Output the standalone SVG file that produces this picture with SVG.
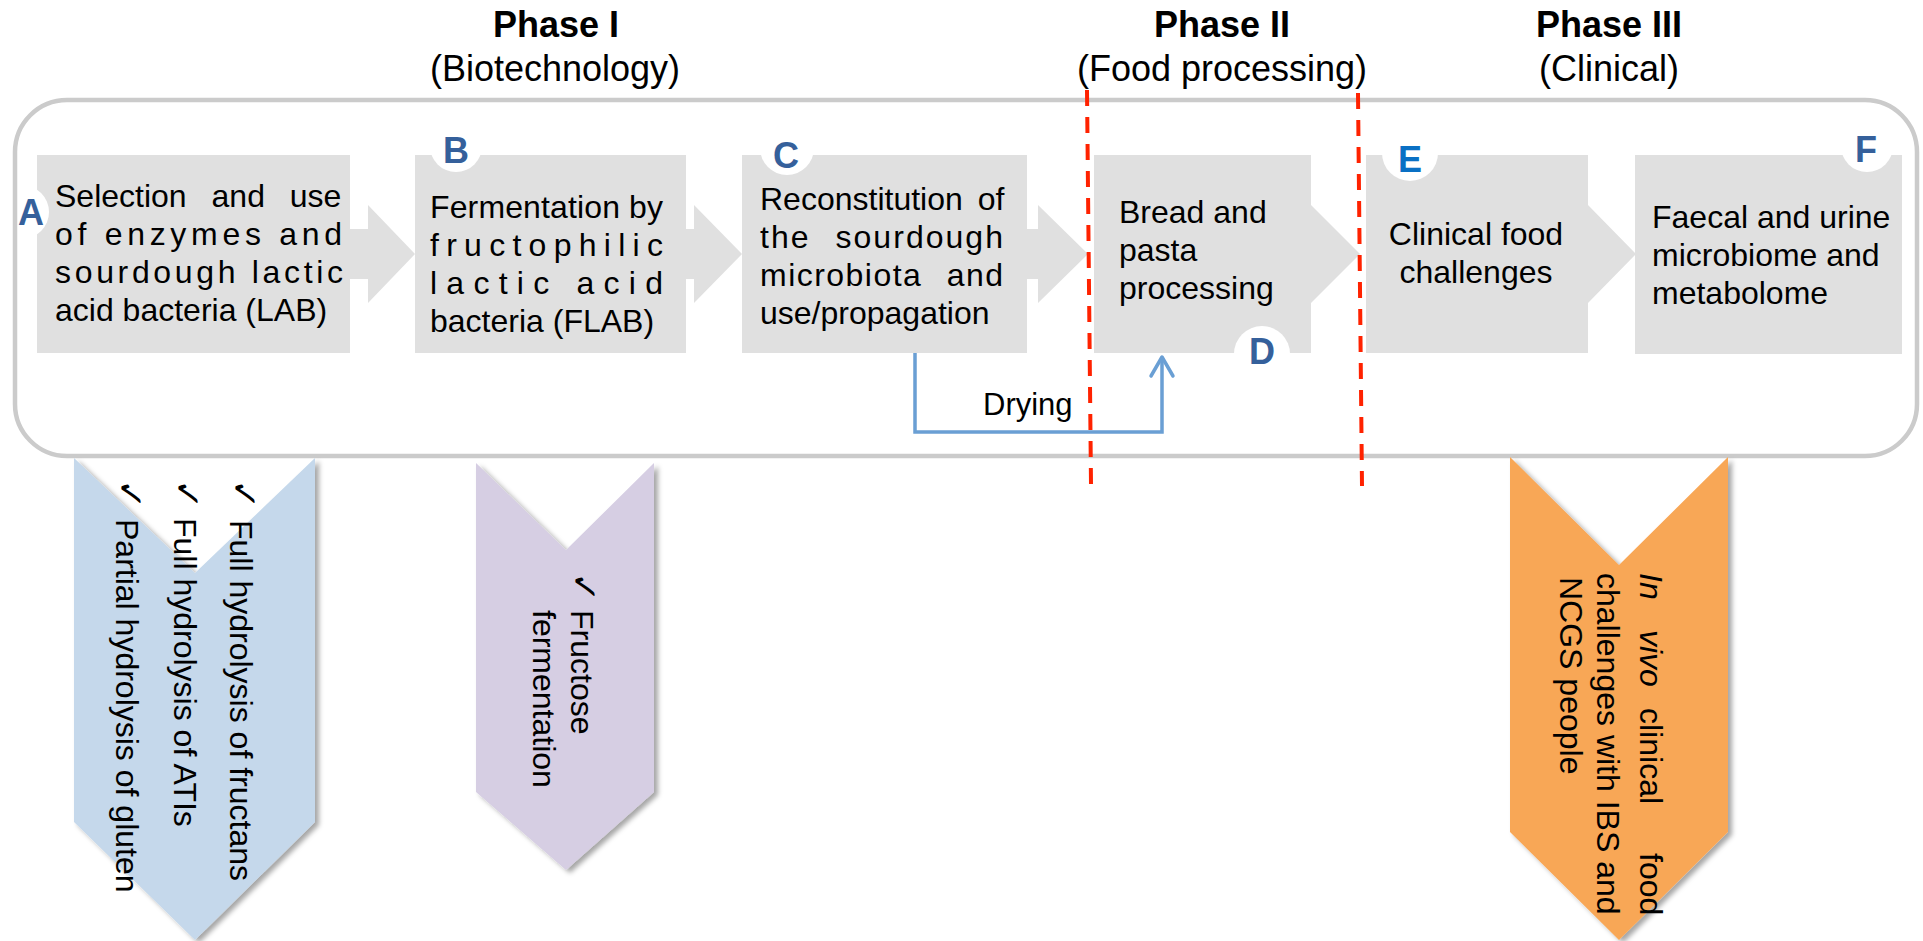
<svg xmlns="http://www.w3.org/2000/svg" width="1923" height="941" viewBox="0 0 1923 941">
<defs>
<style>
text{font-family:"Liberation Sans",Arial,sans-serif;fill:#000}
.t{font-size:32px}
.hb{font-size:36px;font-weight:bold;text-anchor:middle}
.hr{font-size:36px;text-anchor:middle}
.box{fill:#e0e0e0}
.notch{fill:#ffffff}
.lab{font-size:36px;font-weight:bold;fill:#35609b;text-anchor:middle}
.chk{font-family:"DejaVu Sans",sans-serif;font-size:36px}
.dash{stroke:#ff2200;stroke-width:4;stroke-dasharray:16 11;fill:none}
</style>
<filter id="sh" x="-10%" y="-10%" width="130%" height="130%">
<feDropShadow dx="4" dy="3" stdDeviation="2.5" flood-color="#000" flood-opacity="0.35"/>
</filter>
</defs>
<rect width="1923" height="941" fill="#ffffff"/>

<g id="headers">
<text class="hb" x="556" y="37">Phase I</text>
<text class="hr" x="555" y="81">(Biotechnology)</text>
<text class="hb" x="1222" y="37">Phase II</text>
<text class="hr" x="1222" y="81">(Food processing)</text>
<text class="hb" x="1609" y="37">Phase III</text>
<text class="hr" x="1609" y="81">(Clinical)</text>
</g>

<g id="connectors">
<polygon class="box" points="350,229 368,229 368,205 415,254 368,303 368,279 350,279"/>
<polygon class="box" points="686,229 694,229 694,205 742,254 694,303 694,279 686,279"/>
<polygon class="box" points="1027,229 1038,229 1038,205 1088,254 1038,303 1038,279 1027,279"/>
<g id="drying">
<path d="M915,353 V432 H1162 V358" fill="none" stroke="#6a9fd4" stroke-width="3.5"/>
<polyline points="1151,376 1162,357 1173,376" fill="none" stroke="#6a9fd4" stroke-width="3.5" stroke-linecap="round" stroke-linejoin="round"/>
<text class="t" x="983" y="415" style="font-size:31px">Drying</text>
</g>
</g>

<g id="nodeA">
<rect class="box" x="37" y="155" width="313" height="198"/>
<circle class="notch" cx="22" cy="212" r="27"/>
<text class="lab" x="31" y="225">A</text>
<text class="t" x="55" y="207" word-spacing="16">Selection and use</text>
<text class="t" x="55" y="245" textLength="287" lengthAdjust="spacing">of enzymes and</text>
<text class="t" x="55" y="283" textLength="288" lengthAdjust="spacing">sourdough lactic</text>
<text class="t" x="55" y="321">acid bacteria (LAB)</text>
</g>

<g id="nodeB">
<rect class="box" x="415" y="155" width="271" height="198"/>
<circle class="notch" cx="456" cy="146" r="26"/>
<text class="lab" x="456" y="163">B</text>
<text class="t" x="430" y="218" textLength="233" lengthAdjust="spacing">Fermentation by</text>
<text class="t" x="430" y="256" textLength="233" lengthAdjust="spacing">fructophilic</text>
<text class="t" x="430" y="294" textLength="233" lengthAdjust="spacing">lactic acid</text>
<text class="t" x="430" y="332">bacteria (FLAB)</text>
</g>

<g id="nodeC">
<rect class="box" x="742" y="155" width="285" height="198"/>
<circle class="notch" cx="787" cy="148" r="27"/>
<text class="lab" x="786" y="168">C</text>
<text class="t" x="760" y="210" word-spacing="6">Reconstitution of</text>
<text class="t" x="760" y="248" textLength="243" lengthAdjust="spacing" word-spacing="14">the sourdough</text>
<text class="t" x="760" y="286" textLength="243" lengthAdjust="spacing" word-spacing="14">microbiota and</text>
<text class="t" x="760" y="324">use/propagation</text>
</g>

<g id="nodeD">
<polygon class="box" points="1094,155 1311,155 1311,205 1360,254 1311,303 1311,353 1094,353"/>
<circle class="notch" cx="1262" cy="354" r="28"/>
<text class="lab" x="1262" y="364">D</text>
<text class="t" x="1119" y="223">Bread and</text>
<text class="t" x="1119" y="261">pasta</text>
<text class="t" x="1119" y="299">processing</text>
</g>

<g id="nodeE">
<polygon class="box" points="1366,155 1588,155 1588,205 1636,254 1588,303 1588,353 1366,353"/>
<circle class="notch" cx="1410" cy="153" r="28"/>
<text class="lab" x="1410" y="172" style="fill:#0a70c4">E</text>
<text class="t" x="1476" y="245" text-anchor="middle">Clinical food</text>
<text class="t" x="1476" y="283" text-anchor="middle">challenges</text>
</g>

<g id="nodeF">
<rect class="box" x="1635" y="155" width="267" height="199"/>
<circle class="notch" cx="1867" cy="146" r="26"/>
<text class="lab" x="1866" y="162">F</text>
<text class="t" x="1652" y="228">Faecal and urine</text>
<text class="t" x="1652" y="266">microbiome and</text>
<text class="t" x="1652" y="304">metabolome</text>
</g>

<g id="frame">
<rect x="15" y="100" width="1902" height="356" rx="52" ry="52" fill="none" stroke="#cbcbcb" stroke-width="4.5"/>
</g>

<g id="chevronBlue">
<polygon points="74,458 195,573 315,458 315,822 195,940 74,822" fill="#c5d8eb" filter="url(#sh)"/>
<text class="chk" transform="translate(232,479) rotate(90)">✓</text>
<text class="chk" transform="translate(175,479) rotate(90)">✓</text>
<text class="chk" transform="translate(118,479) rotate(90)">✓</text>
<text class="t" transform="translate(230,520) rotate(90)">Full hydrolysis of fructans</text>
<text class="t" transform="translate(174,518) rotate(90)">Full hydrolysis of ATIs</text>
<text class="t" transform="translate(116,519) rotate(90)">Partial hydrolysis of gluten</text>
</g>

<g id="chevronPurple">
<polygon points="476,463 566,550 654,463 654,792 566,870 476,792" fill="#d6cee3" filter="url(#sh)"/>
<text class="chk" transform="translate(572,572) rotate(90)">✓</text>
<text class="t" transform="translate(571,610) rotate(90)">Fructose</text>
<text class="t" transform="translate(533,610) rotate(90)">fermentation</text>
</g>

<g id="chevronOrange">
<polygon points="1510,457 1619,565 1728,457 1728,832 1619,940 1510,832" fill="#f8a757" filter="url(#sh)"/>
<text class="t" transform="translate(1640,573) rotate(90)"><tspan x="0" font-style="italic">In</tspan><tspan x="57" font-style="italic">vivo</tspan><tspan x="135">clinical</tspan><tspan x="280">food</tspan></text>
<text class="t" transform="translate(1597,573) rotate(90)">challenges with IBS and</text>
<text class="t" transform="translate(1560,577) rotate(90)">NCGS people</text>
</g>

<g id="phaseLines">
<line class="dash" x1="1087" y1="90" x2="1091" y2="484"/>
<line class="dash" x1="1358" y1="93" x2="1362" y2="486"/>
</g>
</svg>
